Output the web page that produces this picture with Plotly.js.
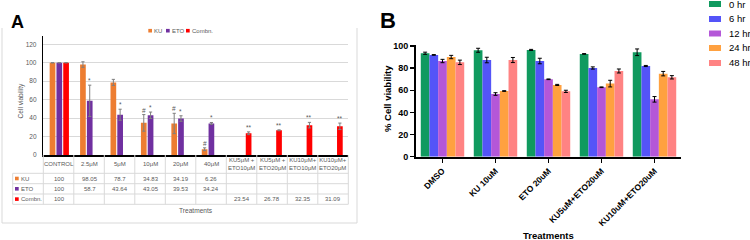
<!DOCTYPE html>
<html>
<head>
<meta charset="utf-8">
<script src="https://cdn.plot.ly/plotly-3.0.1.min.js"></script>
<style>
  html, body { margin: 0; padding: 0; background: #fff; }
  #chart { width: 750px; height: 240px; }
</style>
</head>
<body>
<div id="chart"></div>
<script>
// ---- Panel A: single agents and combinations ----
const catsA = ['CONTROL', '2.5μM', '5μM', '10μM', '20μM', '40μM',
  'KU5μM +<br>ETO10μM', 'KU5μM +<br>ETO20μM', 'KU10μM+<br>ETO10μM', 'KU10μM+<br>ETO20μM'];
const seriesA = ['KU', 'ETO', 'Combn.'];
const kuVals   = [100, 98.05, 78.7, 34.83, 34.19, 6.26, null, null, null, null];
const etoVals  = [100, 58.7, 43.64, 43.05, 39.53, 34.24, null, null, null, null];
const combVals = [100, null, null, null, null, null, 23.54, 26.78, 32.35, 31.09];
const kuErr    = [0, 3, 3.3, 9, 11, 1.5, null, null, null, null];
const etoErr   = [0, 17, 6, 3.5, 3, 1, null, null, null, null];
const combErr  = [0, null, null, null, null, null, 1.5, 0.5, 3, 3.5];
const kuSig    = ['', '', '', '#', '#', '#', '', '', '', ''];
const etoSig   = ['', '*', '*', '*', '*', '*', '', '', '', ''];
const combSig  = ['', '', '', '', '', '', '**', '**', '**', '**'];
const ticksA   = [0, 20, 40, 60, 80, 100, 120];

// ---- Panel B: time course ----
const catsB = ['DMSO', 'KU 10uM', 'ETO 20uM', 'KU5uM+ETO20uM', 'KU10uM+ETO20uM'];
const timeLabels = ['0 hr', '6 hr', '12 hr', '24 hr', '48 hr'];
const v0h  = [93.4, 96.1, 96.4, 92.8, 94.3];
const v6h  = [91.9, 87.3, 86.4, 80.1, 81.9];
const v12h = [86.4, 56.6, 69.9, 62.7, 51.8];
const v24h = [90.0, 59.3, 64.8, 66.0, 75.0];
const v48h = [85.2, 87.3, 59.0, 77.4, 71.7];
const e0h  = [1.0, 1.8, 0.5, 0.3, 3.0];
const e6h  = [0.3, 2.5, 2.5, 1.0, 0.5];
const e12h = [1.5, 1.2, 0.3, 0.3, 2.5];
const e24h = [1.5, 0.3, 0.5, 3.0, 2.0];
const e48h = [2.0, 2.3, 1.0, 1.8, 1.5];
const ticksB = [0, 20, 40, 60, 80, 100];

// ---- styling ----
const W = 750, H = 240;
const px = v => v / W;
const py = v => 1 - v / H;
const FONT = 'Liberation Sans, Arial, sans-serif';
const GREY_TXT = '#595959';
const GRID = '#d9d9d9';
const colorsA = ['#ED7D31', '#7030A0', '#FF0000'];
const colorsB = ['#109A5F', '#5454F8', '#B457D8', '#FFA140', '#FF8383'];

// bar geometry for panel A (in category units)
const slotA = 0.223, barWA = 0.187;
const offsetsA = [-1.5, -0.5, 0.5].map(k => k * slotA + (slotA - barWA) / 2);

const valsA = [kuVals, etoVals, combVals];
const errsA = [kuErr, etoErr, combErr];
const sigsA = [kuSig, etoSig, combSig];

const traces = [];
valsA.forEach((vals, i) => {
  traces.push({
    type: 'bar', x: catsA, y: vals, name: seriesA[i],
    xaxis: 'x', yaxis: 'y',
    marker: { color: colorsA[i] },
    width: barWA, offset: offsetsA[i],
    error_y: { type: 'data', array: errsA[i], visible: true,
               color: '#7f7f7f', thickness: 1, width: 1.6 },
    hoverinfo: 'none'
  });
});

const valsB = [v0h, v6h, v12h, v24h, v48h];
const errsB = [e0h, e6h, e12h, e24h, e48h];
valsB.forEach((vals, i) => {
  traces.push({
    type: 'bar', x: catsB, y: vals, name: timeLabels[i],
    xaxis: 'x2', yaxis: 'y2',
    marker: { color: colorsB[i] },
    error_y: { type: 'data', array: errsB[i], visible: true,
               color: '#000', thickness: 1, width: 2 },
    hoverinfo: 'none'
  });
});

const annotations = [];
const shapes = [];

// text helper: always anchor explicitly
function label(opts) {
  return Object.assign({ showarrow: false, xanchor: 'center', yanchor: 'middle',
                         borderpad: 0 }, opts);
}

// significance marks over panel A bars
sigsA.forEach((sig, s) => {
  sig.forEach((t, i) => {
    if (!t) return;
    annotations.push(label({
      xref: 'x', yref: 'y', x: i + offsetsA[s] + barWA / 2,
      y: valsA[s][i] + (errsA[s][i] || 0),
      text: t, yanchor: 'bottom', yshift: 0,
      font: { family: FONT, size: 6.5, color: GREY_TXT }
    }));
  });
});

// panel A data table
const rowLines = [173.3, 183.7, 194, 204.3];
const rowCentres = [178.5, 188.8, 199.1];
const tableTop = 155, tableLeft = 12.7;
const xDomA = [px(43.3), px(348.3)];
const catW = (xDomA[1] - xDomA[0]) / catsA.length;

for (let k = 0; k <= catsA.length; k++) {
  const xp = xDomA[0] + k * catW;
  shapes.push({ type: 'line', xref: 'paper', yref: 'paper',
    x0: xp, x1: xp, y0: py(tableTop), y1: py(rowLines[3]),
    line: { color: GRID, width: 1 } });
}
shapes.push({ type: 'line', xref: 'paper', yref: 'paper',
  x0: px(tableLeft), x1: px(tableLeft), y0: py(rowLines[0]), y1: py(rowLines[3]),
  line: { color: GRID, width: 1 } });
rowLines.forEach(yv => {
  shapes.push({ type: 'line', xref: 'paper', yref: 'paper',
    x0: px(tableLeft), x1: xDomA[1], y0: py(yv), y1: py(yv),
    line: { color: GRID, width: 1 } });
});

// header row: treatment names
catsA.forEach((c, i) => {
  annotations.push(label({
    xref: 'x', yref: 'paper', x: i, y: py(164.2), text: c,
    font: { family: FONT, size: 6, color: GREY_TXT }
  }));
});
// value rows
valsA.forEach((vals, s) => {
  shapes.push({ type: 'rect', xref: 'paper', yref: 'paper',
    x0: px(15), x1: px(18.7), y0: py(rowCentres[s] - 1.8), y1: py(rowCentres[s] + 1.8),
    fillcolor: colorsA[s], line: { width: 0 } });
  annotations.push(label({
    xref: 'paper', yref: 'paper', x: px(20), y: py(rowCentres[s]), xanchor: 'left',
    text: seriesA[s], font: { family: FONT, size: 6, color: GREY_TXT }
  }));
  vals.forEach((v, i) => {
    if (v === null) return;
    annotations.push(label({
      xref: 'x', yref: 'paper', x: i, y: py(rowCentres[s]), text: String(v),
      font: { family: FONT, size: 6, color: GREY_TXT }
    }));
  });
});

// panel A legend along the top
const legXA = [148.3, 166, 186];
seriesA.forEach((name, s) => {
  shapes.push({ type: 'rect', xref: 'paper', yref: 'paper',
    x0: px(legXA[s]), x1: px(legXA[s] + 3.7), y0: py(30.7 - 1.8), y1: py(30.7 + 1.8),
    fillcolor: colorsA[s], line: { width: 0 } });
  annotations.push(label({
    xref: 'paper', yref: 'paper', x: px(legXA[s] + 4.7), y: py(30.7), xanchor: 'left',
    text: name, font: { family: FONT, size: 6, color: GREY_TXT }
  }));
});

// panel A frame
[[2, 28, 2, 223], [357, 28, 357, 223], [2, 223, 357, 223]].forEach(([a, b, c, d]) => {
  shapes.push({ type: 'line', xref: 'paper', yref: 'paper',
    x0: px(a), y0: py(b), x1: px(c), y1: py(d), line: { color: GRID, width: 1 } });
});

// panel A titles
annotations.push(label({ xref: 'paper', yref: 'paper', x: px(21), y: py(100.5), textangle: -90,
  text: 'Cell viability', font: { family: FONT, size: 6.6, color: GREY_TXT } }));
annotations.push(label({ xref: 'paper', yref: 'paper', x: px(196), y: py(210),
  text: 'Treatments', font: { family: FONT, size: 6.6, color: GREY_TXT } }));
annotations.push(label({ xref: 'paper', yref: 'paper', x: px(17.5), y: py(22),
  text: 'A', font: { family: FONT, size: 18, color: '#000', weight: 'bold' } }));

// panel B legend
const legRowsB = [4, 19, 33.5, 48, 63];
timeLabels.forEach((name, s) => {
  shapes.push({ type: 'rect', xref: 'paper', yref: 'paper',
    x0: px(709), x1: px(721), y0: py(legRowsB[s] - 3), y1: py(legRowsB[s] + 3),
    fillcolor: colorsB[s], line: { width: 0 } });
  annotations.push(label({
    xref: 'paper', yref: 'paper', x: px(727.5), y: py(legRowsB[s]), xanchor: 'left',
    text: name, font: { family: FONT, size: 9.5, color: '#000' }
  }));
});

// panel B titles
annotations.push(label({ xref: 'paper', yref: 'paper', x: px(387), y: py(99), textangle: -90,
  text: '% Cell viability',
  font: { family: FONT, size: 9.5, color: '#000', weight: 'bold' } }));
annotations.push(label({ xref: 'paper', yref: 'paper', x: px(548), y: py(235.5),
  text: 'Treatments',
  font: { family: FONT, size: 9.5, color: '#000', weight: 'bold' } }));
annotations.push(label({ xref: 'paper', yref: 'paper', x: px(388), y: py(20.5),
  text: 'B', font: { family: FONT, size: 22, color: '#000', weight: 'bold' } }));

const layout = {
  width: W, height: H,
  margin: { l: 0, r: 0, t: 0, b: 0 },
  paper_bgcolor: '#fff', plot_bgcolor: 'rgba(0,0,0,0)',
  showlegend: false,
  barmode: 'group', bargap: 0.18, bargroupgap: 0,
  font: { family: FONT },
  xaxis: {
    domain: xDomA, anchor: 'y', type: 'category',
    showticklabels: false, ticks: '', showgrid: false,
    showline: true, linecolor: '#000', linewidth: 1.5, fixedrange: true
  },
  yaxis: {
    domain: [py(155), py(36)], anchor: 'x', range: [0, 129],
    tickvals: ticksA, ticks: '', showgrid: true, gridcolor: GRID, gridwidth: 1,
    zeroline: false, showline: true, linecolor: '#000', linewidth: 1.5,
    ticklabelstandoff: 4,
    tickfont: { family: FONT, size: 6.5, color: GREY_TXT }, fixedrange: true
  },
  xaxis2: {
    domain: [px(416), px(681)], anchor: 'y2', type: 'category',
    showline: true, linecolor: '#000', linewidth: 2,
    ticks: 'outside', ticklen: 4, tickwidth: 1.5, tickcolor: '#000',
    tickangle: -45, showgrid: false,
    tickfont: { family: FONT, size: 8.5, color: '#000', weight: 'bold' }, fixedrange: true
  },
  yaxis2: {
    domain: [py(156.7), py(45.4)], anchor: 'x2', range: [0, 100.5],
    tickvals: ticksB, ticks: 'outside', ticklen: 4, tickwidth: 1.5, tickcolor: '#000',
    showgrid: false, zeroline: false, showline: true, linecolor: '#000', linewidth: 2,
    tickfont: { family: FONT, size: 9, color: '#000', weight: 'bold' }, fixedrange: true
  },
  shapes: shapes,
  annotations: annotations
};

Plotly.newPlot('chart', traces, layout, { staticPlot: true, displayModeBar: false });
</script>
</body>
</html>
